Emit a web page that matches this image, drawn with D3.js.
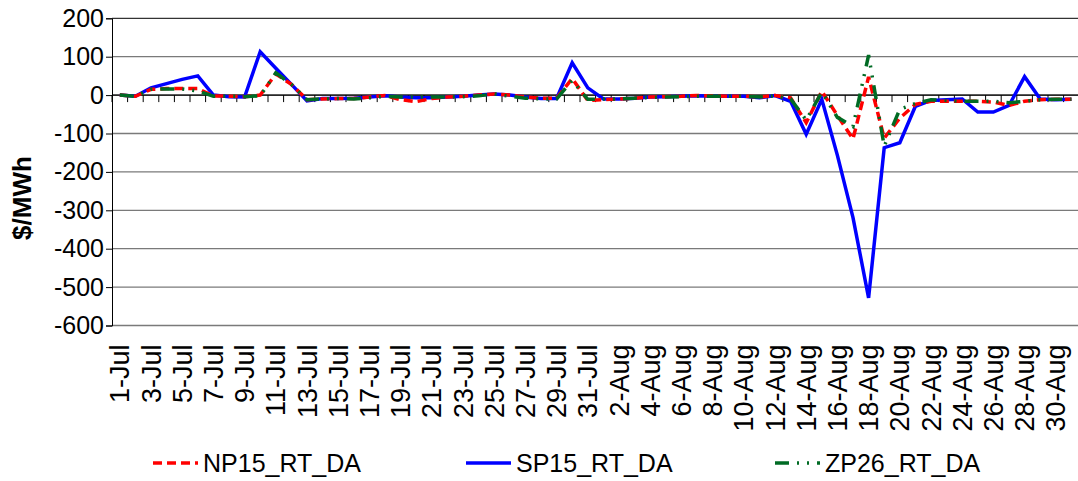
<!DOCTYPE html>
<html>
<head>
<meta charset="utf-8">
<script src="https://cdn.jsdelivr.net/npm/d3@7"></script>
<style>
  body { margin: 0; background: #fff; }
  #graf text { font-family: "Liberation Sans", Arial, sans-serif; fill: #000; }
</style>
</head>
<body>
<div id="graf"></div>
<script>
// days 1-Jul .. 31-Aug
const dias = [];
for (let d = 1; d <= 31; d++) dias.push(d + "-Jul");
for (let d = 1; d <= 31; d++) dias.push(d + "-Aug");

const np15 = [0, -3, 15, 17, 17, 17, -2, -3, -4, 0, 55, 28, -12, -10, -9, -9, -5, -1, -12, -17,
  -9, -5, -3, 0, 3, 0, -5, -8, -8, 43, -14, -12, -10, -8, -5, -4, -3, -1, -2, -3,
  -3, -5, -1, -7, -72, 10, -53, -114, 47, -112, -60, -24, -16, -16, -16, -16, -18, -27, -16, -12,
  -11, -11];

const sp15 = [0, -3, 19, 30, 41, 50, 0, -4, -5, 113, 70, 28, -15, -9, -9, -8, -5, -2, -5, -7,
  -7, -5, -3, 0, 3, 0, -5, -9, -9, 84, 19, -10, -10, -8, -5, -4, -3, -2, -3, -3,
  -3, -7, -1, -16, -102, -11, -157, -319, -528, -137, -124, -29, -14, -12, -10, -44, -44, -27, 48, -10,
  -12, -11];

const zp26 = [0, -3, 15, 16, 16, 11, -3, -3, -4, -2, 58, 28, -12, -10, -9, -10, -7, -3, -5, -5,
  -5, -5, -4, -2, 3, -3, -8, -10, -10, 38, -11, -10, -10, -8, -6, -5, -4, -3, -3, -3,
  -3, -5, -2, -10, -65, 8, -58, -82, 104, -133, -37, -22, -12, -14, -16, -16, -16, -20, -16, -12,
  -11, -11];

const yTicks = [200, 100, 0, -100, -200, -300, -400, -500, -600];

const series = [
  { name: "NP15_RT_DA", values: np15, color: "#ff0000", dash: "9,5" },
  { name: "SP15_RT_DA", values: sp15, color: "#0000ff", dash: null },
  { name: "ZP26_RT_DA", values: zp26, color: "#006b24", dash: "14,8,2,8,2,8" }
];

const ancho_total = 1078;
const alto_total = 481;

const margins = { top: 18.3, left: 112, bottom: 155.5 };
const ancho = 62 * 15.6;
const alto = alto_total - margins.top - margins.bottom;

const svg = d3.select("#graf")
  .append("svg")
  .attr("width", ancho_total)
  .attr("height", alto_total);

const g = svg.append("g")
  .attr("transform", `translate(${margins.left}, ${margins.top})`);

const x = d3.scaleBand().domain(dias).range([0, ancho]);
const y = d3.scaleLinear().domain([-600, 200]).range([alto, 0]);

// gridlines
g.append("g")
  .selectAll("line")
  .data(yTicks)
  .join("line")
  .attr("x1", 0)
  .attr("x2", ancho)
  .attr("y1", (d) => y(d))
  .attr("y2", (d) => y(d))
  .attr("stroke", (d) => (d === 0 || d === 200 ? "#000" : "#7a7a7a"))
  .attr("stroke-width", (d) => (d === 0 || d === 200 ? 1 : 1.3));

// y axis (plain hyphen minus, like the original)
const ejeY = g.append("g")
  .call(d3.axisLeft(y).tickValues(yTicks).tickSize(6).tickPadding(2).tickFormat((d) => String(d)));
ejeY.select(".domain").attr("stroke", "#000");
ejeY.selectAll("text").style("font-size", "25px");

// x axis crosses at zero, ticks between categories
const ejeX = g.append("g").attr("transform", `translate(0, ${y(0)})`);
ejeX.append("line").attr("x1", 0).attr("x2", ancho).attr("stroke", "#000");
ejeX.selectAll(".tk")
  .data(d3.range(0, 63))
  .join("line")
  .attr("class", "tk")
  .attr("x1", (i) => i * x.step())
  .attr("x2", (i) => i * x.step())
  .attr("y1", 0)
  .attr("y2", 7)
  .attr("stroke", "#000");

// x labels at the bottom, every other day
g.append("g")
  .selectAll("text")
  .data(dias.filter((d, i) => i % 2 === 0))
  .join("text")
  .attr("transform", (d) => `translate(${x(d) + x.bandwidth() / 2 + 9.5}, ${alto + 19}) rotate(-90)`)
  .attr("text-anchor", "end")
  .style("font-size", "27px")
  .text((d) => d);

// y title
svg.append("text")
  .attr("transform", "translate(31, 198) rotate(-90)")
  .attr("text-anchor", "middle")
  .style("font-size", "26px")
  .style("font-weight", "bold")
  .text("$/MWh");

// lines
const linea = d3.line()
  .x((d, i) => x(dias[i]) + x.bandwidth() / 2)
  .y((d) => y(d));

g.selectAll(".serie")
  .data([series[1], series[0], series[2]])
  .join("path")
  .attr("class", "serie")
  .attr("d", (s) => linea(s.values))
  .attr("fill", "none")
  .attr("stroke", (s) => s.color)
  .attr("stroke-width", 3.5)
  .attr("stroke-dasharray", (s) => s.dash)
  .attr("stroke-linejoin", "miter");

// legend
const leyX = [153, 466, 775];
const ley = svg.append("g")
  .selectAll("g")
  .data(series)
  .join("g")
  .attr("transform", (s, i) => `translate(${leyX[i]}, 463)`);

ley.append("line")
  .attr("x1", 0)
  .attr("x2", 45)
  .attr("stroke", (s) => s.color)
  .attr("stroke-width", 3.5)
  .attr("stroke-dasharray", (s) => s.dash);

ley.append("text")
  .attr("x", 50)
  .attr("y", 9)
  .style("font-size", "25px")
  .text((s) => s.name);
</script>
</body>
</html>
